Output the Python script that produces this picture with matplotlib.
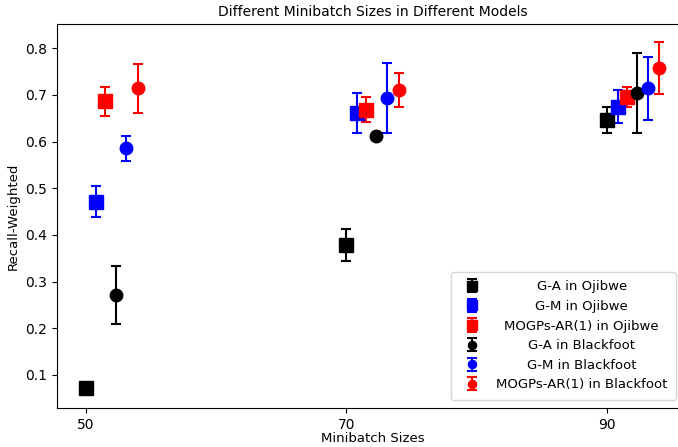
import matplotlib
matplotlib.use("Agg")
import matplotlib.pyplot as plt

# minibatch sizes on the x axis; each model is shifted a little so points don't overlap
batch_sizes = [50, 70, 90]
offsets = [0.0, 0.8, 1.5, 2.3, 3.1, 4.0]

labels = [
    "G-A in Ojibwe",
    "G-M in Ojibwe",
    "MOGPs-AR(1) in Ojibwe",
    "G-A in Blackfoot",
    "G-M in Blackfoot",
    "MOGPs-AR(1) in Blackfoot",
]

# mean recall-weighted for each model at 50 / 70 / 90
ga_oj = [0.071, 0.378, 0.647]
gm_oj = [0.471, 0.661, 0.675]
mogp_oj = [0.686, 0.668, 0.696]
ga_bf = [0.271, 0.611, 0.704]
gm_bf = [0.586, 0.693, 0.714]
mogp_bf = [0.714, 0.711, 0.758]

# standard deviations (error bar half widths)
ga_oj_err = [0.003, 0.035, 0.028]
gm_oj_err = [0.033, 0.043, 0.035]
mogp_oj_err = [0.032, 0.027, 0.021]
ga_bf_err = [0.063, 0.008, 0.086]
gm_bf_err = [0.027, 0.075, 0.067]
mogp_bf_err = [0.053, 0.037, 0.056]

means = [ga_oj, gm_oj, mogp_oj, ga_bf, gm_bf, mogp_bf]
errs = [ga_oj_err, gm_oj_err, mogp_oj_err, ga_bf_err, gm_bf_err, mogp_bf_err]
colors = ["black", "blue", "red", "black", "blue", "red"]
markers = ["s", "s", "s", "o", "o", "o"]
sizes = [10, 10, 10, 9, 9, 9]

fig = plt.figure(figsize=(6.78, 4.47), dpi=100)
ax = fig.add_axes([57 / 678, 1 - 408 / 447, 631 / 678, 384 / 447])

for i in range(6):
    xs = [b + offsets[i] for b in batch_sizes]
    ax.errorbar(xs, means[i], yerr=errs[i], fmt=markers[i], color=colors[i],
                markersize=sizes[i], capsize=3.5,
                elinewidth=1.5, capthick=1.5, label=labels[i])

ax.set_xlim(47.8, 96.2)
ax.set_ylim(0.029, 0.852)
ax.set_xticks(batch_sizes)
ax.set_yticks([0.1, 0.2, 0.3, 0.4, 0.5, 0.6, 0.7, 0.8])
ax.tick_params(labelsize=10)
ax.set_xlabel("Minibatch Sizes", fontsize=9.5, labelpad=0)
ax.set_ylabel("Recall-Weighted", fontsize=9.5)
ax.set_title("Different Minibatch Sizes in Different Models", fontsize=10)

leg = ax.legend(loc="lower right", bbox_to_anchor=(676 / 678, 1 - 400 / 447),
                bbox_transform=fig.transFigure, borderaxespad=0,
                borderpad=0.65, fontsize=9.5, markerscale=0.65)

# center the legend labels in their column
fig.canvas.draw()
renderer = fig.canvas.get_renderer()
texts = leg.get_texts()
widths = [t.get_window_extent(renderer).width for t in texts]
wmax = max(widths)
for t, w in zip(texts, widths):
    t.set_x((wmax - w) / 2)

fig.savefig("out.png", dpi=100)
